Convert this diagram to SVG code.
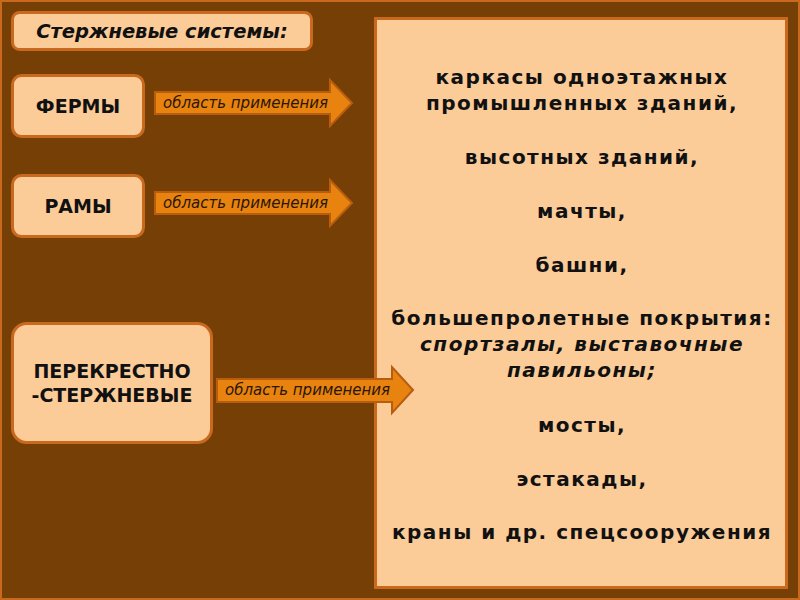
<svg xmlns="http://www.w3.org/2000/svg" width="800" height="600" viewBox="0 0 800 600">
<style>
.box{fill:#FBCB98;stroke:#C8691E;stroke-width:3}
.lbl{font-family:"DejaVu Sans",Verdana,sans-serif;font-weight:bold;font-size:19px;fill:#111;text-anchor:middle}
.arr{fill:#E8830F;stroke:#B85C10;stroke-width:2}
.al{font-family:"DejaVu Sans",Verdana,sans-serif;font-style:italic;font-size:15px;fill:#2a1606}
.pt{font-family:"DejaVu Sans",Verdana,sans-serif;font-weight:bold;font-size:20px;letter-spacing:1.5px;fill:#111;text-anchor:middle}
</style>
<rect x="1" y="1" width="798" height="598" fill="#763F06" stroke="#C8691E" stroke-width="2"/>
<g id="title">
<rect class="box" x="12.5" y="12.5" width="299" height="37" rx="7"/>
<text x="162" y="38" font-family="DejaVu Sans,Verdana,sans-serif" font-weight="bold" font-style="italic" font-size="19.5" fill="#111" text-anchor="middle">Стержневые системы:</text>
</g>
<g id="fermy">
<rect class="box" x="12.5" y="75.5" width="131" height="61" rx="9"/>
<text class="lbl" x="78" y="113">ФЕРМЫ</text>
</g>
<g id="ramy">
<rect class="box" x="12.5" y="175.5" width="131" height="61" rx="9"/>
<text class="lbl" x="78" y="213">РАМЫ</text>
</g>
<g id="perekr">
<rect class="box" x="12.5" y="323.5" width="199" height="119" rx="14"/>
<text class="lbl" x="112" y="378">ПЕРЕКРЕСТНО</text>
<text class="lbl" x="112" y="402">-СТЕРЖНЕВЫЕ</text>
</g>
<g id="panel">
<rect x="375.5" y="18.5" width="411" height="569" fill="#FBCB98" stroke="#C8691E" stroke-width="3"/>
<text class="pt" x="582" y="84">каркасы одноэтажных</text>
<text class="pt" x="582" y="110">промышленных зданий,</text>
<text class="pt" x="582" y="164">высотных  зданий,</text>
<text class="pt" x="582" y="218">мачты,</text>
<text class="pt" x="582" y="272">башни,</text>
<text class="pt" x="582" y="325">большепролетные покрытия:</text>
<text class="pt" x="582" y="351" font-style="italic">спортзалы, выставочные</text>
<text class="pt" x="582" y="377" font-style="italic">павильоны;</text>
<text class="pt" x="582" y="432">мосты,</text>
<text class="pt" x="582" y="486">эстакады,</text>
<text class="pt" x="582" y="539">краны и др. спецсооружения</text>
</g>
<g id="connectors">
<path class="arr" d="M155,92 H330 V80 L352,103 L330,126 V114 H155 Z"/>
<text class="al" x="163" y="108">область применения</text>
<path class="arr" d="M155,192 H330 V180 L352,203 L330,226 V214 H155 Z"/>
<text class="al" x="163" y="208">область применения</text>
<path class="arr" d="M217,379 H392 V367 L413,390 L392,413 V402 H217 Z"/>
<text class="al" x="225" y="395">область применения</text>
</g>
</svg>
